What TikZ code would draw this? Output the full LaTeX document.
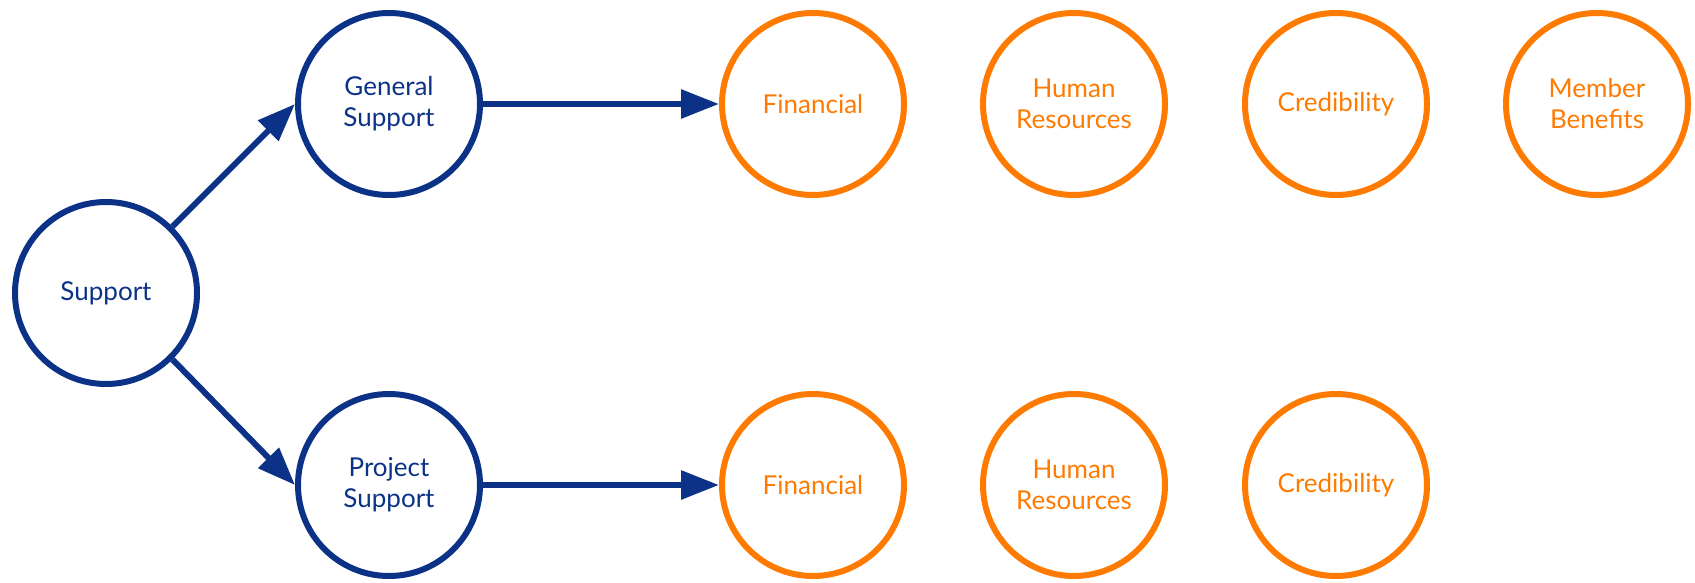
\documentclass[tikz,border=0pt]{standalone}
\usepackage{fontspec}
\setmainfont{Lato}
\usepackage{tikz}
\usetikzlibrary{positioning,arrows.meta}
\definecolor{navy}{RGB}{12,50,136}
\definecolor{tangerine}{RGB}{255,122,0}
\begin{document}
\begin{tikzpicture}[x=1pt,y=-1pt]
\tikzstyle{blob}=[circle,draw,line width=6pt,minimum size=182pt,inner sep=0pt,align=center,font=\fontsize{26}{31}\selectfont]
\tikzstyle{blue}=[blob,draw=navy,text=navy]
\tikzstyle{orng}=[blob,draw=tangerine,text=tangerine]
\tikzstyle{link}=[-{Triangle[length=38pt,width=28pt]},navy,line width=6pt]
\useasboundingbox (0,0) rectangle (1695,583);
    \node[blue] (sup) at (106,293) {Support};
    \node[blue] (gen) at (389,104) {General\\Support};
    \node[blue] (prj) at (389,485) {Project\\Support};
    \node[orng] (f1) at (813,104) {Financial};
    \node[orng] (h1) at (1074,104) {Human\\Resources};
    \node[orng] (c1) at (1336,104) {Credibility};
    \node[orng] (m1) at (1597,104) {Member\\Benefits};
    \node[orng] (f2) at (813,485) {Financial};
    \node[orng] (h2) at (1074,485) {Human\\Resources};
    \node[orng] (c2) at (1336,485) {Credibility};
    \draw[link] (sup.45) to (gen.west);
    \draw[link] (sup.-45) to (prj.west);
    \draw[link] (gen) to (f1);
    \draw[link] (prj) to (f2);
  \end{tikzpicture}
\end{document}
